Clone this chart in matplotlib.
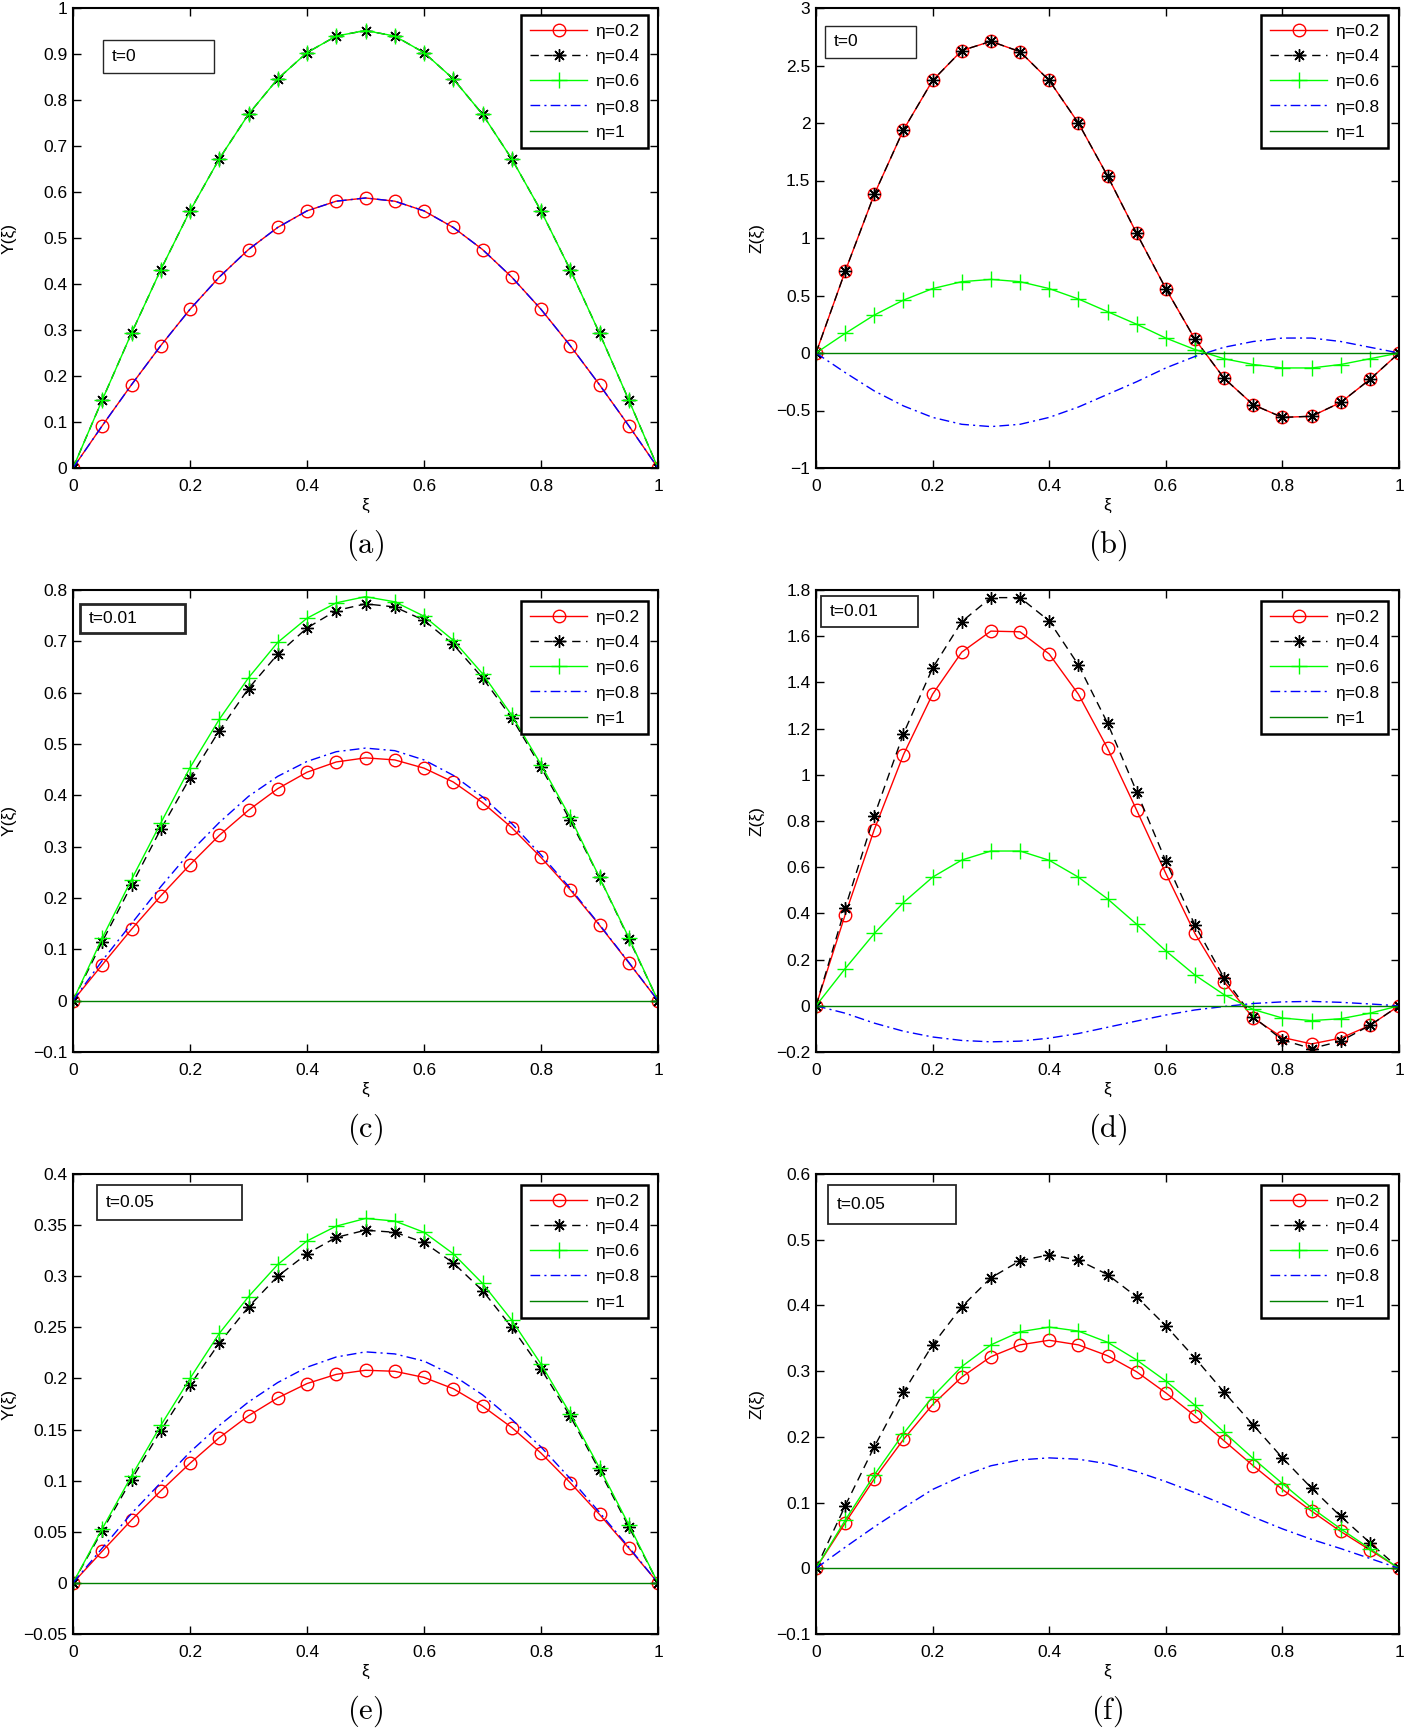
import matplotlib
matplotlib.use('Agg')
import matplotlib.pyplot as plt
from matplotlib.patches import Rectangle
from matplotlib.ticker import FuncFormatter, MultipleLocator

plt.rcParams['font.family'] = ['Liberation Sans', 'DejaVu Sans']
plt.rcParams['mathtext.fontset'] = 'cm'

# ---------------- data ----------------
xi = [0, 0.05, 0.1, 0.15, 0.2, 0.25, 0.3, 0.35, 0.4, 0.45, 0.5,
      0.55, 0.6, 0.65, 0.7, 0.75, 0.8, 0.85, 0.9, 0.95, 1.0]

eta_labels = ['η=0.2', 'η=0.4', 'η=0.6', 'η=0.8', 'η=1']

# (a) t=0, Y
Ya_02 = [0, 0.092, 0.181, 0.266, 0.345, 0.415, 0.475, 0.523, 0.559, 0.580, 0.587,
         0.580, 0.559, 0.523, 0.475, 0.415, 0.345, 0.266, 0.181, 0.092, 0]
Ya_04 = [0, 0.148, 0.293, 0.431, 0.559, 0.672, 0.769, 0.846, 0.903, 0.939, 0.951,
         0.939, 0.903, 0.846, 0.769, 0.672, 0.559, 0.431, 0.293, 0.148, 0]
Ya_06 = [0, 0.148, 0.293, 0.431, 0.559, 0.672, 0.769, 0.846, 0.903, 0.939, 0.951,
         0.939, 0.903, 0.846, 0.769, 0.672, 0.559, 0.431, 0.293, 0.148, 0]
Ya_08 = [0, 0.092, 0.181, 0.266, 0.345, 0.415, 0.475, 0.523, 0.559, 0.580, 0.587,
         0.580, 0.559, 0.523, 0.475, 0.415, 0.345, 0.266, 0.181, 0.092, 0]
Ya_10 = [0] * 21

# (b) t=0, Z
Zb_02 = [0, 0.71, 1.38, 1.94, 2.37, 2.63, 2.71, 2.62, 2.37, 2.00, 1.54,
         1.04, 0.56, 0.12, -0.22, -0.45, -0.56, -0.55, -0.43, -0.23, 0]
Zb_04 = [0, 0.71, 1.38, 1.94, 2.37, 2.63, 2.71, 2.62, 2.37, 2.00, 1.54,
         1.04, 0.56, 0.12, -0.22, -0.45, -0.56, -0.55, -0.43, -0.23, 0]
Zb_06 = [0, 0.17, 0.33, 0.46, 0.56, 0.62, 0.64, 0.62, 0.56, 0.47, 0.36,
         0.25, 0.13, 0.03, -0.05, -0.10, -0.13, -0.13, -0.10, -0.05, 0]
Zb_08 = [0, -0.17, -0.33, -0.46, -0.56, -0.62, -0.64, -0.62, -0.56, -0.47, -0.36,
         -0.25, -0.13, -0.03, 0.05, 0.10, 0.13, 0.13, 0.10, 0.05, 0]
Zb_10 = [0] * 21

# (c) t=0.01, Y
Yc_02 = [0, 0.070, 0.139, 0.204, 0.265, 0.322, 0.371, 0.413, 0.445, 0.465, 0.473,
         0.469, 0.453, 0.426, 0.386, 0.337, 0.279, 0.216, 0.147, 0.074, 0]
Yc_04 = [0, 0.115, 0.225, 0.334, 0.434, 0.526, 0.608, 0.675, 0.726, 0.760, 0.773,
         0.767, 0.741, 0.694, 0.629, 0.551, 0.455, 0.351, 0.240, 0.121, 0]
Yc_06 = [0, 0.122, 0.236, 0.346, 0.454, 0.548, 0.629, 0.698, 0.745, 0.775, 0.787,
         0.777, 0.749, 0.702, 0.637, 0.556, 0.460, 0.357, 0.240, 0.123, 0]
Yc_08 = [0, 0.078, 0.150, 0.222, 0.289, 0.347, 0.398, 0.437, 0.466, 0.485, 0.492,
         0.487, 0.469, 0.439, 0.397, 0.345, 0.284, 0.219, 0.148, 0.075, 0]
Yc_10 = [0] * 21

# (d) t=0.01, Z
Zd_02 = [0, 0.394, 0.763, 1.087, 1.349, 1.531, 1.622, 1.619, 1.523, 1.349, 1.115,
         0.847, 0.573, 0.313, 0.104, -0.053, -0.137, -0.165, -0.140, -0.085, 0]
Zd_04 = [0, 0.423, 0.823, 1.178, 1.462, 1.663, 1.767, 1.767, 1.666, 1.476, 1.224,
         0.927, 0.627, 0.349, 0.120, -0.048, -0.148, -0.185, -0.153, -0.085, 0]
Zd_06 = [0, 0.161, 0.313, 0.447, 0.557, 0.631, 0.670, 0.670, 0.630, 0.557, 0.463,
         0.353, 0.238, 0.133, 0.048, -0.016, -0.053, -0.064, -0.056, -0.032, 0]
Zd_08 = [0, -0.032, -0.075, -0.110, -0.135, -0.150, -0.156, -0.153, -0.140, -0.120, -0.093,
         -0.066, -0.040, -0.018, -0.003, 0.010, 0.017, 0.019, 0.015, 0.008, 0]
Zd_10 = [0] * 21

# (e) t=0.05, Y
Ye_02 = [0, 0.031, 0.0615, 0.090, 0.117, 0.142, 0.1635, 0.181, 0.195, 0.204, 0.208,
         0.207, 0.201, 0.190, 0.173, 0.152, 0.127, 0.098, 0.067, 0.034, 0]
Ye_04 = [0, 0.051, 0.101, 0.149, 0.1935, 0.2345, 0.270, 0.300, 0.322, 0.338, 0.345,
         0.343, 0.333, 0.313, 0.286, 0.250, 0.2095, 0.163, 0.110, 0.055, 0]
Ye_06 = [0, 0.053, 0.1045, 0.154, 0.200, 0.244, 0.280, 0.3115, 0.3345, 0.349, 0.3565,
         0.354, 0.343, 0.322, 0.293, 0.257, 0.214, 0.1655, 0.1125, 0.057, 0]
Ye_08 = [0, 0.034, 0.068, 0.098, 0.128, 0.154, 0.177, 0.196, 0.211, 0.221, 0.226,
         0.224, 0.217, 0.203, 0.184, 0.160, 0.133, 0.102, 0.069, 0.035, 0]
Ye_10 = [0] * 21

# (f) t=0.05, Z
Zf_02 = [0, 0.069, 0.136, 0.196, 0.249, 0.291, 0.322, 0.340, 0.347, 0.340, 0.3235,
         0.299, 0.267, 0.232, 0.194, 0.156, 0.120, 0.087, 0.056, 0.028, 0]
Zf_04 = [0, 0.095, 0.185, 0.268, 0.340, 0.398, 0.442, 0.468, 0.477, 0.469, 0.447,
         0.413, 0.369, 0.320, 0.268, 0.218, 0.168, 0.122, 0.079, 0.039, 0]
Zf_06 = [0, 0.073, 0.142, 0.205, 0.261, 0.307, 0.340, 0.360, 0.367, 0.361, 0.344,
         0.317, 0.285, 0.248, 0.207, 0.167, 0.129, 0.092, 0.060, 0.030, 0]
Zf_08 = [0, 0.032, 0.063, 0.092, 0.120, 0.140, 0.156, 0.165, 0.168, 0.166, 0.159,
         0.147, 0.132, 0.115, 0.097, 0.078, 0.060, 0.044, 0.030, 0.015, 0]
Zf_10 = [0] * 21

panel_series = [
    [Ya_02, Ya_04, Ya_06, Ya_08, Ya_10],
    [Zb_02, Zb_04, Zb_06, Zb_08, Zb_10],
    [Yc_02, Yc_04, Yc_06, Yc_08, Yc_10],
    [Zd_02, Zd_04, Zd_06, Zd_08, Zd_10],
    [Ye_02, Ye_04, Ye_06, Ye_08, Ye_10],
    [Zf_02, Zf_04, Zf_06, Zf_08, Zf_10],
]
ylims = [(0, 1), (-1, 3), (-0.1, 0.8), (-0.2, 1.8), (-0.05, 0.4), (-0.1, 0.6)]
ysteps = [0.1, 0.5, 0.1, 0.2, 0.05, 0.1]
ylabels = ['Y(ξ)', 'Z(ξ)', 'Y(ξ)', 'Z(ξ)', 'Y(ξ)', 'Z(ξ)']
tlabels = ['t=0', 't=0', 't=0.01', 't=0.01', 't=0.05', 't=0.05']
captions = ['(a)', '(b)', '(c)', '(d)', '(e)', '(f)']

# ---------------- layout / styles ----------------
W, H = 1406, 1730
axes_px = [  # left, top, right, bottom in pixels
    (73, 8, 658, 468), (816, 8, 1399, 468),
    (73, 590, 658, 1052), (816, 590, 1399, 1052),
    (73, 1174, 658, 1634), (816, 1174, 1399, 1634),
]
tbox_px = [  # left, top, right, bottom
    (103, 40, 214, 73), (825, 26, 916, 58),
    (80, 604, 185, 633), (821, 596, 918, 627),
    (97, 1185, 242, 1220), (828, 1185, 956, 1224),
]
tbox_lw = [1.0, 1.0, 2.0, 1.3, 1.3, 1.3]
leg_px = [(648, 15), (1388, 15), (648, 601), (1388, 601), (648, 1185), (1388, 1185)]

styles = [
    dict(color=(1, 0, 0), ls='-', marker='o', mfc='none', ms=9, mew=1.0, lw=1.0),
    dict(color='k', ls=(0, (6, 4)), marker=(8, 2, 0), ms=9, mew=1.0, lw=1.0),
    dict(color=(0, 1, 0), ls='-', marker='+', ms=11, mew=1.0, lw=1.0),
    dict(color=(0, 0, 1), ls=(0, (7, 3, 1.5, 3)), lw=1.0),
    dict(color=(0, 0.5, 0), ls='-', lw=1.0),
]


def fmt(v, pos):
    v = round(v, 10) + 0.0
    return '{:g}'.format(v).replace('-', '\u2212')


fig = plt.figure(figsize=(W / 100, H / 100), dpi=100)

for i in range(6):
    l, t, r, b = axes_px[i]
    ax = fig.add_axes([l / W, 1 - b / H, (r - l) / W, (b - t) / H])
    for s, lab, st in zip(panel_series[i], eta_labels, styles):
        ax.plot(xi, s, label=lab, **st)
    ax.set_xlim(0, 1)
    ax.set_ylim(*ylims[i])
    ax.xaxis.set_major_locator(MultipleLocator(0.2))
    ax.yaxis.set_major_locator(MultipleLocator(ysteps[i]))
    ax.xaxis.set_major_formatter(FuncFormatter(fmt))
    ax.yaxis.set_major_formatter(FuncFormatter(fmt))
    ax.tick_params(direction='in', length=6, width=1.0, top=True, right=True,
                   labelsize=12.5, pad=4)
    ax.tick_params(axis='x', pad=8)
    for sp in ax.spines.values():
        sp.set_linewidth(1.5)

    aw, ah = r - l, b - t
    # t box
    bl, bt, br, bb = tbox_px[i]
    ax.add_patch(Rectangle(((bl - l) / aw, 1 - (bb - t) / ah), (br - bl) / aw, (bb - bt) / ah,
                           transform=ax.transAxes, fill=True, facecolor='white',
                           edgecolor='0.15', lw=tbox_lw[i], zorder=5))
    ax.text((bl - l + 9) / aw, 1 - ((bt + bb) / 2 - t) / ah, tlabels[i],
            transform=ax.transAxes, fontsize=12.5, va='center', ha='left', zorder=6)

    # legend
    lx, ly = leg_px[i]
    leg = ax.legend(loc='upper right', bbox_to_anchor=((lx - l) / aw, 1 - (ly - t) / ah),
                    borderaxespad=0, fontsize=12.5, handlelength=3.3, handletextpad=0.45,
                    labelspacing=0.58, borderpad=0.5, fancybox=False, framealpha=1,
                    edgecolor='k', numpoints=1)
    leg.get_frame().set_linewidth(1.8)

    # labels
    ax.text(0.5, -37 / ah, 'ξ', transform=ax.transAxes, fontsize=12.5,
            ha='center', va='center')
    ax.text(-(l - (9 if l < 700 else 757)) / aw, 0.5, ylabels[i], transform=ax.transAxes,
            fontsize=12.5, ha='center', va='center', rotation=90)
    ax.text(0.5, -77 / ah, r'$\mathrm{' + captions[i] + '}$', transform=ax.transAxes,
            fontsize=22, ha='center', va='center')

fig.savefig('out.png', dpi=100)
